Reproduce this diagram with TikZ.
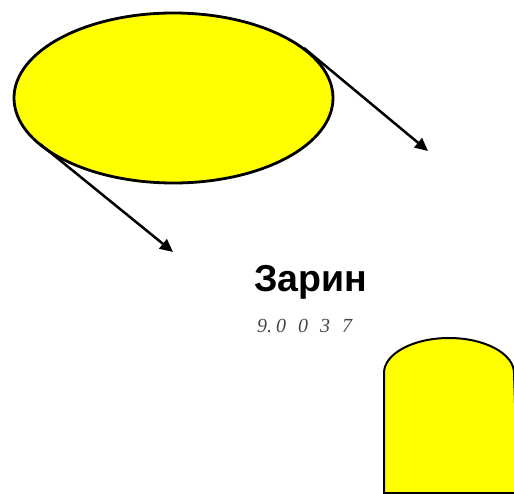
\documentclass[tikz,border=0pt]{standalone}
\usepackage{fontspec}
\setmainfont{Liberation Serif}
\newfontfamily\labelsans{Liberation Sans}
\usetikzlibrary{shapes.geometric,arrows.meta}
\definecolor{fillyellow}{RGB}{255,255,0}
\definecolor{numgray}{RGB}{70,70,70}
\tikzset{
  blob/.style={draw=black, line width=2.8pt, fill=fillyellow},
  pointer/.style={draw=black, line width=2.5pt, -{Triangle[length=13pt,width=12pt]}},
}
\begin{document}
\begin{tikzpicture}[x=1pt,y=-1pt]
\useasboundingbox (0,0) rectangle (514,494);
\clip (0,0) rectangle (514,494);
% ellipse
\node[blob, ellipse, minimum width=319pt, minimum height=170pt, inner sep=0pt] (ell) at (173.5,98) {};
% arrows
\coordinate (t1) at (304,48);
\coordinate (h1) at (428,151);
\coordinate (t2) at (40,144);
\coordinate (h2) at (173,252);
\draw[pointer] (t1) -- (h1);
\draw[pointer] (t2) -- (h2);
% dome shape
\draw[blob, line width=2pt] (384,493) -- (384,373) arc[start angle=180, end angle=360, x radius=65, y radius=35] -- (518,493) -- cycle;
% texts
\node[anchor=base west, inner sep=0pt, font=\labelsans\bfseries\fontsize{37.5}{42}\selectfont] (name) at (254,292) {Зарин};
\node[anchor=base west, inner sep=0pt, text=numgray, font=\itshape\fontsize{20}{24}\selectfont] (num) at (257,332) {\spaceskip=12pt\relax 9.\kern4pt0 0 3 7};
\end{tikzpicture}
\end{document}
